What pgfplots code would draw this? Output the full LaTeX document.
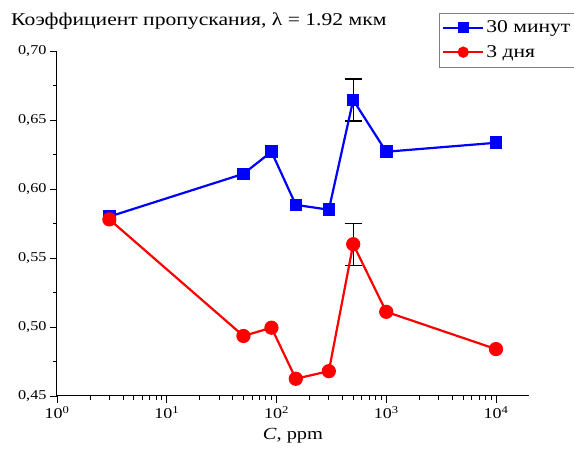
\documentclass[border=0pt]{standalone}
\usepackage{fontspec}
\setmainfont[FakeStretch=1.2]{Liberation Serif}
\usepackage{pgfplots}
\pgfplotsset{compat=1.18}
\definecolor{pblue}{RGB}{0,0,255}
\definecolor{pred}{RGB}{255,0,0}
\begin{document}
\begin{tikzpicture}
\begin{axis}[
  at={(0,0)}, anchor=south west,
  scale only axis, width=472pt, height=345pt,
  xmode=log, xmin=1, xmax=20000, ymin=0.45, ymax=0.70,
  axis x line*=bottom, axis y line*=left,
  axis line style={line width=1pt, -},
  tick align=outside, major tick length=7pt, minor tick length=4pt,
  every tick/.style={black, line width=0.8pt},
  xtick={1,10,100,1000,10000},
  xticklabels={10\textsuperscript{0},10\textsuperscript{1},10\textsuperscript{2},10\textsuperscript{3},10\textsuperscript{4}},
  xticklabel style={font=\fontsize{15}{17}\selectfont},
  ytick={0.45,0.50,0.55,0.60,0.65,0.70}, minor y tick num=1,
  yticklabel style={font=\fontsize{13.5}{15}\selectfont, /pgf/number format/.cd, fixed, fixed zerofill, precision=2, use comma, assume math mode=true},
  xlabel={\textit{C}, ppm},
  xlabel style={font=\fontsize{17}{19}\selectfont, yshift=-2pt},
  clip=false,
  legend style={at={(0.809,1.111)}, anchor=north west, draw=gray, line width=0.6pt,
    font=\fontsize{18}{20}\selectfont, inner xsep=3pt, inner ysep=6pt, row sep=7pt},
  legend cell align=left,
  legend image code/.code={\draw[mark repeat=2,mark phase=2, mark size=4.5pt] plot coordinates {(0pt,0pt) (20pt,0pt) (40pt,0pt)};},
]
\addplot[forget plot, draw=none, mark=none, black, line width=1pt,
  error bars/.cd, y dir=both, y explicit,
  error bar style={black, line width=1.1pt},
  error mark options={rotate=90, mark size=8.5pt, black, line width=1.1pt}]
  coordinates {(500,0.6645) +- (0,0.0152) (500,0.5600) +- (0,0.0152)};
\addplot[pblue, line width=2.2pt, mark=square*, mark size=5.2pt, mark options={solid}]
  coordinates {(3,0.580) (50,0.611) (90,0.627) (150,0.5885) (300,0.585) (500,0.6645) (1000,0.627) (10000,0.6335)};
\addlegendentry{30 минут}
\addplot[pred, line width=2.2pt, mark=*, mark size=6pt, mark options={solid}]
  coordinates {(3,0.578) (50,0.4935) (90,0.4995) (150,0.4625) (300,0.468) (500,0.560) (1000,0.511) (10000,0.484)};
\addlegendentry{3 дня}
\end{axis}
\node[anchor=west, font=\fontsize{18}{22}\selectfont, inner sep=0pt] at (-46pt,375pt) {Коэффициент пропускания, λ = 1.92 мкм};
\pgfresetboundingbox
\path[use as bounding box] (-57pt,-54pt) rectangle (517pt,396pt);
\end{tikzpicture}
\end{document}
